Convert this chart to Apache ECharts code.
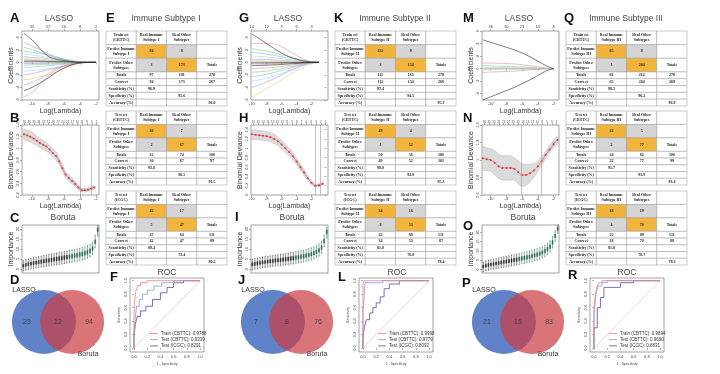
<!DOCTYPE html>
<html><head><meta charset="utf-8">
<script src="https://cdn.jsdelivr.net/npm/echarts@6/dist/echarts.min.js"></script>
<style>html,body{margin:0;padding:0;background:#fff}#c{width:720px;height:374px}</style>
</head><body><div id="c"></div><script>
// ---------------- DATA ----------------
const subtypeTitles = ['Immune Subtype I', 'Immune Subtype II', 'Immune Subtype III'];
const subtypeShort = ['I', 'II', 'III'];
const setNames = ['Train set\n(CBTTC)', 'Test set\n(CBTTC)', 'Test set\n(ICGC)'];
const rowLabels = ['Totals', 'Correct', 'Sensitivity (%)', 'Specificity (%)', 'Accuracy (%)'];
// [TP, FP, FN, TN, totImm, totOther, tot, corrImm, corrOther, corr, sens, spec, acc]
const tblI_train  = [94, 8, 3, 173, 97, 181, 278, 94, 173, 267, '96.9', '95.6', '96.0'];
const tblI_test   = [30, 7, 2, 67, 32, 74, 106, 30, 67, 97, '93.8', '90.5', '91.5'];
const tblI_icgc   = [42, 17, 5, 47, 47, 64, 111, 42, 47, 89, '89.4', '73.4', '80.2'];
const tblII_train = [112, 9, 3, 154, 115, 163, 278, 112, 154, 266, '97.4', '94.5', '95.7'];
const tblII_test  = [49, 4, 1, 52, 50, 56, 106, 49, 52, 101, '98.0', '92.9', '95.3'];
const tblII_icgc  = [34, 16, 8, 53, 42, 69, 111, 34, 53, 87, '81.0', '76.8', '78.4'];
const tblIII_train = [65, 8, 1, 204, 66, 212, 278, 65, 204, 269, '98.5', '96.2', '96.8'];
const tblIII_test  = [22, 5, 2, 77, 24, 82, 106, 22, 77, 99, '91.7', '93.9', '93.4'];
const tblIII_icgc  = [18, 19, 4, 70, 22, 89, 111, 18, 70, 88, '81.8', '78.7', '79.3'];

const vennCounts = [[23, 12, 94], [7, 8, 76], [21, 15, 83]];

// LASSO coefficient paths
const lassoXA = [-11, -10, -9, -8, -7, -6, -5, -4, -3, -2];
const lassoA = [
  [4.6, 3.6, 2.2, 1.0, 0.5, 0.3, 0.1, 0, 0, 0],
  [3.2, 2.6, 2.0, 1.4, 0.9, 0.5, 0.2, 0, 0, 0],
  [2.4, 2.0, 1.6, 1.2, 0.8, 0.5, 0.2, 0.05, 0, 0],
  [1.8, 1.6, 1.4, 1.1, 0.8, 0.5, 0.3, 0.1, 0, 0],
  [1.3, 1.2, 1.0, 0.8, 0.6, 0.4, 0.2, 0.05, 0, 0],
  [0.9, 0.8, 0.7, 0.6, 0.45, 0.3, 0.15, 0.05, 0, 0],
  [0.6, 0.55, 0.5, 0.4, 0.3, 0.2, 0.15, 0.08, 0.03, 0],
  [0.4, 0.35, 0.3, 0.25, 0.2, 0.15, 0.1, 0.05, 0, 0],
  [0.2, 0.2, 0.18, 0.15, 0.12, 0.1, 0.06, 0.03, 0, 0],
  [-0.2, -0.2, -0.18, -0.15, -0.12, -0.1, -0.06, -0.03, 0, 0],
  [-0.45, -0.4, -0.35, -0.3, -0.22, -0.15, -0.1, -0.05, 0, 0],
  [-0.8, -0.75, -0.65, -0.55, -0.4, -0.3, -0.2, -0.1, -0.03, 0],
  [-1.4, -1.3, -1.2, -1.0, -0.8, -0.6, -0.35, -0.12, 0, 0],
  [-2.0, -1.8, -1.5, -1.2, -0.9, -0.6, -0.3, -0.1, 0, 0],
  [-2.8, -2.6, -2.3, -2.0, -1.6, -1.0, -0.5, -0.1, 0, 0],
  [-3.6, -3.2, -2.6, -1.8, -1.0, -0.5, -0.2, 0, 0, 0],
  [-4.5, -4.0, -3.3, -2.5, -1.6, -0.9, -0.4, -0.1, 0, 0],
  [-5.5, -4.8, -3.6, -2.2, -1.2, -0.6, -0.25, -0.05, 0, 0],
  [0.1, 0.1, 0.08, 0.06, 0.05, 0.04, 0.02, 0, 0, 0],
  [-0.1, -0.08, -0.07, -0.06, -0.04, -0.03, -0.02, 0, 0, 0]
];
const lassoXG = [-10, -9, -8, -7, -6, -5, -4, -3, -2, -1];
const lassoG = [
  [4.5, 3.8, 3.0, 2.2, 1.5, 0.9, 0.5, 0.2, 0.05, 0],
  [3.0, 3.0, 3.0, 2.9, 2.5, 1.8, 1.1, 0.5, 0.1, 0],
  [2.2, 2.0, 1.8, 1.5, 1.2, 0.9, 0.6, 0.3, 0.1, 0],
  [1.6, 1.5, 1.3, 1.1, 0.9, 0.7, 0.45, 0.2, 0.05, 0],
  [1.0, 0.95, 0.85, 0.75, 0.6, 0.45, 0.3, 0.15, 0.05, 0],
  [0.5, 0.48, 0.45, 0.4, 0.33, 0.25, 0.17, 0.08, 0.02, 0],
  [0.25, 0.24, 0.22, 0.2, 0.17, 0.13, 0.09, 0.05, 0.01, 0],
  [-0.25, -0.24, -0.22, -0.2, -0.17, -0.13, -0.09, -0.05, -0.01, 0],
  [-0.5, -0.48, -0.45, -0.4, -0.33, -0.25, -0.17, -0.08, -0.02, 0],
  [-1.0, -0.95, -0.9, -0.8, -0.65, -0.5, -0.3, -0.15, -0.05, 0],
  [-1.6, -1.5, -1.4, -1.2, -1.0, -0.75, -0.5, -0.25, -0.08, 0],
  [-2.3, -2.1, -1.9, -1.6, -1.3, -1.0, -0.6, -0.3, -0.1, 0],
  [-3.0, -2.8, -2.5, -2.2, -1.8, -1.3, -0.8, -0.4, -0.1, 0],
  [-4.0, -3.6, -3.1, -2.6, -2.0, -1.4, -0.9, -0.4, -0.1, 0],
  [-5.5, -4.9, -4.2, -3.5, -2.8, -2.0, -1.3, -0.7, -0.2, 0],
  [0.08, 0.08, 0.07, 0.06, 0.05, 0.04, 0.03, 0.02, 0, 0],
  [-0.08, -0.08, -0.07, -0.06, -0.05, -0.04, -0.03, -0.02, 0, 0]
];
const lassoXM = [-11, -10, -9, -8, -7, -6, -5, -4, -3, -2];
const lassoM = [
  [4.6, 4.2, 3.8, 3.4, 3.0, 2.5, 1.9, 1.2, 0.5, 0],
  [0.9, 0.9, 0.85, 0.8, 0.75, 0.6, 0.45, 0.3, 0.1, 0],
  [0.5, 0.45, 0.4, 0.35, 0.3, 0.25, 0.2, 0.1, 0.05, 0],
  [0.15, 0.14, 0.13, 0.12, 0.1, 0.08, 0.06, 0.04, 0.02, 0],
  [0.05, 0.05, 0.04, 0.04, 0.03, 0.03, 0.02, 0.01, 0, 0],
  [-0.05, -0.05, -0.04, -0.04, -0.03, -0.03, -0.02, -0.01, 0, 0],
  [-0.15, -0.14, -0.13, -0.12, -0.1, -0.08, -0.06, -0.04, -0.02, 0],
  [-0.6, -0.55, -0.5, -0.45, -0.4, -0.3, -0.2, -0.1, -0.05, 0],
  [-5.0, -4.5, -4.0, -3.5, -3.0, -2.4, -1.8, -1.1, -0.4, 0]
];
const lassoTicks = [-10, -8, -6, -4, -2];
const lassoTopA = ['35', '27', '16', '8', '2'];
const lassoTopG = ['14', '12', '9', '6', '3'];
const lassoTopM = ['36', '30', '23', '13', '4'];

// Cross-validated binomial deviance (mean, standard error)
const devXA = [-11, -10.6, -10.2, -9.8, -9.4, -9, -8.6, -8.2, -7.8, -7.4, -7, -6.6, -6.2, -5.8, -5.4, -5, -4.6, -4.2, -3.8, -3.4, -3, -2.6, -2.2];
const devMeanA = [1.24, 1.22, 1.2, 1.17, 1.13, 1.09, 1.06, 1.03, 0.98, 0.92, 0.87, 0.78, 0.66, 0.55, 0.49, 0.44, 0.39, 0.33, 0.28, 0.28, 0.29, 0.31, 0.33];
const devSeA = [0.09, 0.09, 0.09, 0.09, 0.08, 0.08, 0.08, 0.08, 0.07, 0.07, 0.07, 0.06, 0.06, 0.05, 0.05, 0.05, 0.04, 0.04, 0.03, 0.03, 0.03, 0.03, 0.03];
const devXH = [-10, -9.5, -9, -8.5, -8, -7.5, -7, -6.5, -6, -5.5, -5, -4.5, -4, -3.5, -3, -2.5, -2, -1.5, -1, -0.5];
const devMeanH = [1.3, 1.29, 1.28, 1.27, 1.26, 1.24, 1.2, 1.15, 1.08, 1.0, 0.92, 0.83, 0.72, 0.6, 0.48, 0.36, 0.26, 0.2, 0.21, 0.24];
const devSeH = [0.1, 0.1, 0.1, 0.1, 0.1, 0.1, 0.1, 0.09, 0.09, 0.09, 0.08, 0.08, 0.07, 0.07, 0.06, 0.05, 0.04, 0.03, 0.03, 0.03];
const devXN = [-11, -10.5, -10, -9.5, -9, -8.5, -8, -7.5, -7, -6.5, -6, -5.5, -5, -4.5, -4, -3.5, -3, -2.5, -2, -1.5];
const devMeanN = [1.02, 1.01, 1.0, 0.97, 0.93, 0.91, 0.91, 0.91, 0.90, 0.86, 0.83, 0.83, 0.85, 0.88, 0.93, 0.99, 1.06, 1.12, 1.18, 1.23];
const devSeN = [0.13, 0.13, 0.13, 0.14, 0.14, 0.14, 0.14, 0.14, 0.13, 0.13, 0.13, 0.12, 0.1, 0.08, 0.06, 0.05, 0.04, 0.04, 0.04, 0.04];
const lambdaLinesA = [-4, -2.6];
const lambdaLinesH = [-1.5, -0.8];
const lambdaLinesN = [-6.1, -3.5];
const devTopA = ['36','36','35','34','33','31','29','27','24','21','17','14','11','8','5','2'];
const devTopH = ['15','15','14','14','13','12','12','11','9','8','7','6','4','3','2','1'];
const devTopN = ['36','35','33','31','29','27','25','22','19','16','13','10','8','5','3','1'];

// Boruta importance boxplots [min, Q1, median, Q3, max]
const borutaC = [
  [-1.0,0.9,1.6,2.4,4.2],[-0.6,1.3,2.1,2.9,4.7],[-0.3,1.6,2.4,3.2,5.0],[0.0,1.9,2.7,3.5,5.3],
  [0.2,2.1,3.0,3.8,5.7],[0.5,2.4,3.2,4.0,5.9],[0.7,2.6,3.5,4.3,6.2],[0.9,2.8,3.7,4.6,6.5],
  [1.1,3.0,3.9,4.8,6.8],[1.3,3.2,4.2,5.1,7.0],[1.5,3.4,4.4,5.3,7.3],[1.7,3.6,4.6,5.5,7.5],
  [1.9,3.9,4.8,5.7,7.8],[2.1,4.1,5.0,6.0,8.0],[2.3,4.3,5.3,6.2,8.3],[2.5,4.5,5.5,6.4,8.5],
  [2.7,4.7,5.7,6.7,8.8],[2.9,5.0,5.9,6.9,9.0],[3.1,5.2,6.2,7.1,9.3],[3.3,5.4,6.4,7.4,9.6],
  [3.6,5.7,6.7,7.6,9.9],[3.8,5.9,6.9,7.9,10.1],[4.1,6.2,7.2,8.2,10.4],[4.4,6.5,7.5,8.5,10.8],
  [4.8,6.9,7.9,8.9,11.2],[5.3,7.4,8.4,9.4,11.7],[6.0,8.1,9.1,10.1,12.4],[7.2,9.3,10.3,11.3,13.5],
  [10.5,12.6,13.6,14.6,16.8],[16.5,18.6,19.6,20.6,21.8]
];
const borutaI = [
  [-0.4,1.5,2.3,3.1,4.9],[-0.1,1.8,2.6,3.4,5.2],[0.2,2.0,2.9,3.7,5.5],[0.4,2.3,3.1,3.9,5.8],
  [0.6,2.5,3.3,4.1,6.0],[0.8,2.7,3.5,4.3,6.2],[1.0,2.9,3.7,4.5,6.4],[1.1,3.0,3.9,4.7,6.6],
  [1.3,3.2,4.0,4.9,6.8],[1.4,3.3,4.2,5.1,7.0],[1.6,3.5,4.4,5.3,7.2],[1.7,3.6,4.5,5.4,7.4],
  [1.9,3.8,4.7,5.6,7.6],[2.0,4.0,4.9,5.8,7.8],[2.2,4.1,5.1,6.0,8.0],[2.4,4.3,5.3,6.2,8.2],
  [2.6,4.5,5.5,6.4,8.4],[2.8,4.7,5.7,6.6,8.7],[3.0,4.9,5.9,6.9,8.9],[3.2,5.2,6.1,7.1,9.2],
  [3.5,5.4,6.4,7.4,9.5],[3.8,5.7,6.7,7.7,9.8],[4.1,6.1,7.0,8.0,10.2],[4.5,6.5,7.4,8.4,10.6],
  [5.0,7.0,7.9,8.9,11.1],[5.6,7.6,8.5,9.5,11.7],[6.4,8.4,9.3,10.3,12.5],[7.8,9.8,10.7,11.7,13.9],
  [11.0,13.0,14.0,15.0,17.0],[15.5,17.5,18.5,19.5,21.0]
];
const borutaO = [
  [-1.2,0.8,1.5,2.3,4.0],[-0.8,1.2,2.0,2.8,4.6],[-0.5,1.5,2.3,3.1,4.9],[-0.2,1.8,2.6,3.4,5.2],
  [0.1,2.1,2.9,3.7,5.6],[0.3,2.3,3.2,4.0,5.9],[0.6,2.6,3.5,4.3,6.2],[0.8,2.8,3.7,4.6,6.5],
  [1.1,3.1,4.0,4.9,6.8],[1.3,3.3,4.3,5.2,7.1],[1.6,3.6,4.5,5.5,7.4],[1.8,3.8,4.8,5.7,7.7],
  [2.1,4.1,5.1,6.0,8.0],[2.3,4.3,5.3,6.3,8.3],[2.6,4.6,5.6,6.6,8.6],[2.9,4.9,5.9,6.9,8.9],
  [3.2,5.2,6.2,7.2,9.3],[3.5,5.5,6.5,7.5,9.6],[3.8,5.8,6.8,7.8,10.0],[4.1,6.2,7.2,8.2,10.4],
  [4.5,6.6,7.6,8.6,10.8],[4.9,7.0,8.0,9.0,11.2],[5.4,7.5,8.5,9.5,11.7],[6.0,8.1,9.1,10.1,12.3],
  [6.8,8.9,9.9,10.9,13.1],[7.8,9.9,10.9,11.9,14.1],[9.2,11.3,12.3,13.3,15.5],[11.5,13.6,14.6,15.6,17.8],
  [15.0,17.1,18.1,19.1,21.0],[19.5,21.0,22.0,23.0,24.0]
];
const borutaConfirmedFrom = [18, 17, 14];

// ROC curves [1 - specificity, sensitivity]
const rocNames = [
  ['Train (CBTTC): 0.9788', 'Test (CBTTC): 0.9339', 'Test (ICGC): 0.8291'],
  ['Train (CBTTC): 0.9998', 'Test (CBTTC): 0.9779', 'Test (ICGC): 0.8092'],
  ['Train (CBTTC): 0.9894', 'Test (CBTTC): 0.9690', 'Test (ICGC): 0.8831']
];
const rocF_train = [[0,0],[0,0.5],[0.01,0.5],[0.01,0.72],[0.03,0.72],[0.03,0.85],[0.06,0.85],[0.06,0.93],[0.1,0.93],[0.1,0.97],[0.2,0.97],[0.2,1],[1,1]];
const rocF_test = [[0,0],[0,0.2],[0.02,0.2],[0.02,0.45],[0.04,0.45],[0.04,0.62],[0.08,0.62],[0.08,0.72],[0.13,0.72],[0.13,0.8],[0.2,0.8],[0.2,0.86],[0.3,0.86],[0.3,0.92],[0.42,0.92],[0.42,0.97],[0.6,0.97],[0.6,1],[1,1]];
const rocF_icgc = [[0,0],[0,0.15],[0.02,0.15],[0.02,0.35],[0.05,0.35],[0.05,0.47],[0.1,0.47],[0.1,0.55],[0.18,0.55],[0.18,0.62],[0.28,0.62],[0.28,0.72],[0.4,0.72],[0.4,0.82],[0.5,0.82],[0.5,0.9],[0.6,0.9],[0.6,0.97],[0.75,0.97],[0.75,1],[1,1]];
const rocL_train = [[0,0],[0,0.96],[0.02,0.96],[0.02,1],[1,1]];
const rocL_test = [[0,0],[0,0.58],[0.01,0.58],[0.01,0.62],[0.03,0.62],[0.03,0.97],[0.3,0.97],[0.3,1],[1,1]];
const rocL_icgc = [[0,0],[0,0.15],[0.02,0.15],[0.02,0.3],[0.05,0.3],[0.05,0.42],[0.1,0.42],[0.1,0.52],[0.15,0.52],[0.15,0.6],[0.2,0.6],[0.2,0.67],[0.26,0.67],[0.26,0.76],[0.32,0.76],[0.32,0.88],[0.4,0.88],[0.4,0.95],[0.55,0.95],[0.55,1],[1,1]];
const rocR_train = [[0,0],[0,0.6],[0.02,0.6],[0.02,0.78],[0.04,0.78],[0.04,0.9],[0.07,0.9],[0.07,0.97],[0.12,0.97],[0.12,1],[1,1]];
const rocR_test = [[0,0],[0,0.5],[0.03,0.5],[0.03,0.8],[0.06,0.8],[0.06,0.92],[0.12,0.92],[0.12,0.97],[0.2,0.97],[0.2,1],[1,1]];
const rocR_icgc = [[0,0],[0,0.3],[0.05,0.3],[0.05,0.6],[0.1,0.6],[0.1,0.75],[0.15,0.75],[0.15,0.9],[0.4,0.9],[0.4,0.97],[0.6,0.97],[0.6,1],[1,1]];

// ---------------- BUILD ----------------
const GX = [0, 229, 460];
const SANS = '"Liberation Sans", Arial, sans-serif';
const SERIF = '"Liberation Serif", "DejaVu Serif", serif';
const rPal = ['#222222', '#e58a9b', '#7fcf7a', '#8bb6e6', '#86dede', '#d48ad0', '#e6cf75', '#a8a8a8'];
const grid = [], xAxis = [], yAxis = [], series = [], legend = [], graphic = [];

function addGrid(l, t, w, h, show) {
  grid.push({ left: l, top: t, width: w, height: h, show: !!show, borderColor: '#666', borderWidth: 0.6, backgroundColor: 'transparent' });
  return grid.length - 1;
}
function rAxis(gi, min, max, ticks, fmt, extra) {
  return Object.assign({
    gridIndex: gi, type: 'value', min: min, max: max,
    axisLine: { show: false },
    axisTick: { show: true, length: 2, customValues: ticks, lineStyle: { color: '#666', width: 0.5 } },
    axisLabel: { show: true, customValues: ticks, fontSize: 4, color: '#444', margin: 2, fontFamily: SANS, formatter: fmt },
    splitLine: { show: false }
  }, extra || {});
}
function hidden(gi, min, max, inv) {
  return { gridIndex: gi, type: 'value', min: min, max: max, show: false, inverse: !!inv, splitLine: { show: false } };
}
function text(x, y, str, size, opts) {
  graphic.push({ type: 'text', x: x, y: y, silent: true, style: Object.assign({ text: str, fontSize: size, fontFamily: SANS, fill: '#333', align: 'center', verticalAlign: 'middle' }, opts || {}) });
}

const lassoSets = [
  { xs: lassoXA, paths: lassoA, xr: [-11.25, -1.625], yr: [-6, 5], top: lassoTopA },
  { xs: lassoXG, paths: lassoG, xr: [-10.1, 0.2], yr: [-6, 5], top: lassoTopG },
  { xs: lassoXM, paths: lassoM, xr: [-11.1, -1.3], yr: [-5, 6], top: lassoTopM }
];
const devSets = [
  { xs: devXA, m: devMeanA, se: devSeA, yr: [0.2, 1.4], lines: lambdaLinesA, top: devTopA },
  { xs: devXH, m: devMeanH, se: devSeH, yr: [0.0, 1.5], lines: lambdaLinesH, top: devTopH },
  { xs: devXN, m: devMeanN, se: devSeN, yr: [0.6, 1.4], lines: lambdaLinesN, top: devTopN }
];
const borutaSets = [borutaC, borutaI, borutaO];
const tables = [[tblI_train, tblI_test, tblI_icgc], [tblII_train, tblII_test, tblII_icgc], [tblIII_train, tblIII_test, tblIII_icgc]];
const rocSets = [[rocF_train, rocF_test, rocF_icgc], [rocL_train, rocL_test, rocL_icgc], [rocR_train, rocR_test, rocR_icgc]];
const rocColors = ['#ee7f87', '#7f9de0', '#5a4d9e'];
const letters = [
  [['A',10,18],['B',10,118],['C',10,218],['D',10,280],['E',106,18],['F',110,277]],
  [['G',239,18],['H',239,118],['I',235,217],['J',238,280],['K',334,18],['L',338,277]],
  [['M',463,18],['N',463,118],['O',463,226],['P',462,283],['Q',564,18],['R',568,275]]
];

for (let g = 0; g < 3; g++) {
  const ox = GX[g];
  const L = lassoSets[g];
  // ---- LASSO coefficient paths ----
  let gi = addGrid(22 + ox, 31, 77, 69, true);
  const ticksY = [];
  for (let v = Math.ceil(L.yr[0] / 2) * 2; v <= L.yr[1]; v += 2) ticksY.push(v);
  xAxis.push(rAxis(gi, L.xr[0], L.xr[1], lassoTicks, v => String(v), { name: 'Log(Lambda)', nameLocation: 'middle', nameGap: 8, nameTextStyle: { fontSize: 7, color: '#333', fontFamily: SANS } }));
  const xiL = xAxis.length - 1;
  xAxis.push(rAxis(gi, L.xr[0], L.xr[1], lassoTicks, v => L.top[lassoTicks.indexOf(v)], { position: 'top' }));
  yAxis.push(rAxis(gi, L.yr[0], L.yr[1], ticksY, v => String(v), { name: 'Coefficients', nameLocation: 'middle', nameGap: 7, nameRotate: 90, nameTextStyle: { fontSize: 7, color: '#333', fontFamily: SANS }, axisLabel: { show: true, customValues: ticksY, fontSize: 4, color: '#444', margin: 2, rotate: 90, fontFamily: SANS } }));
  const yiL = yAxis.length - 1;
  L.paths.forEach((p, i) => {
    series.push({ type: 'line', xAxisIndex: xiL, yAxisIndex: yiL, data: L.xs.map((x, k) => [x, p[k]]), symbol: 'none', smooth: 0.35, silent: true, lineStyle: { width: 0.6, color: rPal[i % rPal.length] }, z: i % rPal.length === 0 ? 3 : 2 });
  });

  // ---- CV deviance ----
  const D = devSets[g];
  gi = addGrid(22 + ox, 125, 77, 70, true);
  const devTicksY = [];
  for (let v = Math.round(D.yr[0] * 10); v <= Math.round(D.yr[1] * 10); v += 2) devTicksY.push(v / 10);
  xAxis.push(rAxis(gi, L.xr[0], L.xr[1], lassoTicks, v => String(v), { name: 'Log(Lambda)', nameLocation: 'middle', nameGap: 8, nameTextStyle: { fontSize: 7, color: '#333', fontFamily: SANS } }));
  const xiD = xAxis.length - 1;
  const span = L.xr[1] - L.xr[0];
  const topVals = D.top.map((_, i) => +(L.xr[0] + span * (i + 0.5) / D.top.length).toFixed(4));
  xAxis.push(rAxis(gi, L.xr[0], L.xr[1], topVals, v => D.top[topVals.indexOf(+v.toFixed(4))] || '', { position: 'top', axisLabel: { show: true, customValues: topVals, fontSize: 3, color: '#555', margin: 1.5, fontFamily: SANS, formatter: v => { const k = topVals.findIndex(t => Math.abs(t - v) < 1e-3); return k >= 0 ? D.top[k] : ''; } } }));
  yAxis.push(rAxis(gi, D.yr[0], D.yr[1], devTicksY, v => v.toFixed(1), { name: 'Binomial Deviance', nameLocation: 'middle', nameGap: 7, nameRotate: 90, nameTextStyle: { fontSize: 7, color: '#333', fontFamily: SANS }, axisLabel: { show: true, customValues: devTicksY, fontSize: 4, color: '#444', margin: 2, rotate: 90, fontFamily: SANS } }));
  const yiD = yAxis.length - 1;
  const upper = D.xs.map((x, k) => [x, D.m[k] + D.se[k]]);
  const lower = D.xs.map((x, k) => [x, D.m[k] - D.se[k]]);
  series.push({
    type: 'custom', xAxisIndex: xiD, yAxisIndex: yiD, silent: true, data: D.xs.map((x, k) => [x, D.m[k]]),
    renderItem: (params, api) => {
      if (params.dataIndex !== 0) return null;
      const pts = upper.map(p => api.coord(p)).concat(lower.slice().reverse().map(p => api.coord(p)));
      return { type: 'polygon', shape: { points: pts, smooth: 0.3 }, style: { fill: '#dcdcdc', stroke: '#b8b8b8', lineWidth: 0.5 } };
    }, z: 1
  });
  series.push({
    type: 'line', xAxisIndex: xiD, yAxisIndex: yiD, data: D.xs.map((x, k) => [x, D.m[k]]), symbol: 'circle', symbolSize: 2, silent: true,
    itemStyle: { color: '#d9363e' }, lineStyle: { width: 0.7, color: '#e0565d' }, smooth: 0.3, z: 3,
    markLine: { silent: true, symbol: 'none', label: { show: false }, lineStyle: { color: '#999', type: 'solid', width: 0.6 }, data: D.lines.map(v => ({ xAxis: v })) }
  });

  // ---- Boruta ----
  const B = borutaSets[g];
  const bMax = g === 2 ? 24 : 22;
  gi = addGrid(22 + ox, 225, 77, 48, true);
  xAxis.push({ gridIndex: gi, type: 'category', data: B.map((_, i) => 'f' + (i + 1)), boundaryGap: true, axisLine: { show: false }, axisTick: { show: false }, axisLabel: { show: false } });
  const xiB = xAxis.length - 1;
  const bTicks = [0, 5, 10, 15, 20];
  yAxis.push(rAxis(gi, -2, bMax, bTicks, v => String(v), { name: 'Importance', nameLocation: 'middle', nameGap: 7, nameRotate: 90, nameTextStyle: { fontSize: 7, color: '#333', fontFamily: SANS }, axisLabel: { show: true, customValues: bTicks, fontSize: 4, color: '#444', margin: 2, rotate: 90, fontFamily: SANS } }));
  const yiB = yAxis.length - 1;
  series.push({
    type: 'boxplot', xAxisIndex: xiB, yAxisIndex: yiB, silent: true, boxWidth: [1, 2],
    data: B.map((r, i) => ({ value: r, itemStyle: i >= borutaConfirmedFrom[g] ? { color: '#2f7d5a', borderColor: '#1f5d40', borderWidth: 0.5 } : { color: '#333', borderColor: '#222', borderWidth: 0.5 } })),
    itemStyle: { color: '#333', borderColor: '#222', borderWidth: 0.5 }
  });

  // ---- Venn ----
  gi = addGrid(0.4 + ox, 290, 115.2, 64, false);
  xAxis.push(hidden(gi, -1.8, 1.8));
  const xiV = xAxis.length - 1;
  yAxis.push(hidden(gi, -1, 1));
  const yiV = yAxis.length - 1;
  const vennFill = [{ fill: '#5f82c8', opacity: 1 }, { fill: '#ca3e44', opacity: 0.72 }];
  series.push({
    type: 'custom', xAxisIndex: xiV, yAxisIndex: yiV, silent: true, data: [[-0.44, 0], [0.44, 0]],
    renderItem: (params, api) => {
      const c = api.coord([api.value(0), api.value(1)]);
      const r = api.size([1, 0])[0];
      return { type: 'circle', shape: { cx: c[0], cy: c[1], r: r }, style: { fill: vennFill[params.dataIndex].fill, opacity: vennFill[params.dataIndex].opacity } };
    }
  });
  series.push({
    type: 'scatter', xAxisIndex: xiV, yAxisIndex: yiV, silent: true, symbolSize: 0, z: 5,
    data: [[-0.97, 0, vennCounts[g][0]], [0, 0, vennCounts[g][1]], [0.97, 0, vennCounts[g][2]]],
    label: { show: true, position: 'inside', formatter: p => String(p.value[2]), fontSize: 7, color: '#333', fontFamily: SANS }
  });
  text(24 + ox, 290, 'LASSO', 7);
  text(88 + ox, 354, 'Boruta', 7);

  // ---- Tables ----
  const tTops = [31, 111, 191], tH = [75, 74, 74];
  tables[g].forEach((T, ti) => {
    const tg = addGrid(106 + ox, tTops[ti], 121, tH[ti], false);
    xAxis.push(hidden(tg, 0, 4));
    const xi = xAxis.length - 1;
    yAxis.push(hidden(tg, 0, 11, true));
    const yi = yAxis.length - 1;
    const st = subtypeShort[g];
    const rows = [
      [setNames[ti], 'Real Immune\nSubtype ' + st, 'Real Other\nSubtypes', ''],
      ['Predict Immune\nSubtype ' + st, T[0], T[1], ''],
      ['Predict Other\nSubtypes', T[2], T[3], 'Totals'],
      [rowLabels[0], T[4], T[5], T[6]],
      [rowLabels[1], T[7], T[8], T[9]],
      [rowLabels[2], T[10], '', ''],
      [rowLabels[3], '', T[11], ''],
      [rowLabels[4], '', '', T[12]]
    ];
    const r0 = [0, 2, 4, 6, 7, 8, 9, 10], r1 = [2, 4, 6, 7, 8, 9, 10, 11];
    const cells = [];
    rows.forEach((row, ri) => row.forEach((txt, ci) => {
      let fill = '#ffffff';
      if ((ri === 1 && ci === 1) || (ri === 2 && ci === 2)) fill = '#f3b43b';
      if ((ri === 1 && ci === 2) || (ri === 2 && ci === 1)) fill = '#d5d5d5';
      cells.push({ c: ci, r0: r0[ri], r1: r1[ri], t: String(txt), fill: fill });
    }));
    series.push({
      type: 'custom', xAxisIndex: xi, yAxisIndex: yi, silent: true,
      data: cells.map(c => [c.c, c.r0, c.c + 1, c.r1]),
      renderItem: (params, api) => {
        const c = cells[params.dataIndex];
        const p0 = api.coord([c.c, c.r0]), p1 = api.coord([c.c + 1, c.r1]);
        return {
          type: 'group', children: [
            { type: 'rect', shape: { x: p0[0], y: p0[1], width: p1[0] - p0[0], height: p1[1] - p0[1] }, style: { fill: c.fill, stroke: '#9a9a9a', lineWidth: 0.5 } },
            { type: 'text', style: { x: (p0[0] + p1[0]) / 2, y: (p0[1] + p1[1]) / 2, text: c.t, align: 'center', verticalAlign: 'middle', fontSize: 4, lineHeight: 5, fontFamily: SERIF, fontWeight: 'bold', fill: '#222' } }
          ]
        };
      }
    });
  });

  // ---- ROC ----
  gi = addGrid(130 + ox, 278, 74, 74, true);
  const rt = [0, 0.2, 0.4, 0.6, 0.8, 1];
  xAxis.push(rAxis(gi, -0.06, 1.06, rt, v => v.toFixed(1), { name: '1 - Specificity', nameLocation: 'middle', nameGap: 10, nameTextStyle: { fontSize: 3.5, color: '#444', fontFamily: SANS }, axisLabel: { show: true, customValues: rt, fontSize: 4, color: '#444', margin: 3, fontFamily: SANS, formatter: v => v.toFixed(1) } }));
  const xiR = xAxis.length - 1;
  yAxis.push(rAxis(gi, -0.06, 1.04, rt, v => v.toFixed(1), { name: 'Sensitivity', nameLocation: 'middle', nameGap: 9, nameRotate: 90, nameTextStyle: { fontSize: 3.5, color: '#444', fontFamily: SANS }, axisLabel: { show: true, customValues: rt, fontSize: 4, color: '#444', margin: 2, rotate: 90, fontFamily: SANS, formatter: v => v.toFixed(1) } }));
  const yiR = yAxis.length - 1;
  series.push({ type: 'line', xAxisIndex: xiR, yAxisIndex: yiR, data: [[0, 0], [1, 1]], symbol: 'none', silent: true, lineStyle: { color: '#c9c9c9', width: 0.6 } });
  rocSets[g].forEach((curve, ci) => {
    series.push({ name: rocNames[g][ci], type: 'line', xAxisIndex: xiR, yAxisIndex: yiR, data: curve, symbol: 'none', silent: true, color: rocColors[ci], lineStyle: { color: rocColors[ci], width: 0.8 }, z: 3 + (2 - ci) });
  });
  legend.push({ data: rocNames[g], left: [150, 378, 609][g], top: 331, orient: 'vertical', icon: 'rect', itemWidth: 8, itemHeight: 0.8, itemGap: 1.2, padding: 0, selectedMode: false, textStyle: { fontSize: 4.5, color: '#333', fontFamily: SANS, padding: [0, 0, 0, -2] } });

  // ---- titles & letters ----
  text(59 + ox, 19, 'LASSO', 8.5, { fill: '#444' });
  text(63 + ox, 218, 'Boruta', 8.5, { fill: '#444' });
  text(166 + ox, 19, subtypeTitles[g], 8.5, { fill: '#444' });
  text([167, 397, 627][g], 273, 'ROC', 8.5, { fill: '#444' });
  letters[g].forEach(([s, x, y]) => text(x, y, s, 13, { align: 'left', fontWeight: 'bold', fill: '#111' }));
}

const chart = echarts.init(document.getElementById('c'), null, { renderer: 'canvas', width: 720, height: 374 });
chart.setOption({ animation: false, backgroundColor: '#fff', grid, xAxis, yAxis, series, legend, graphic, tooltip: { show: false } });
</script></body></html>
